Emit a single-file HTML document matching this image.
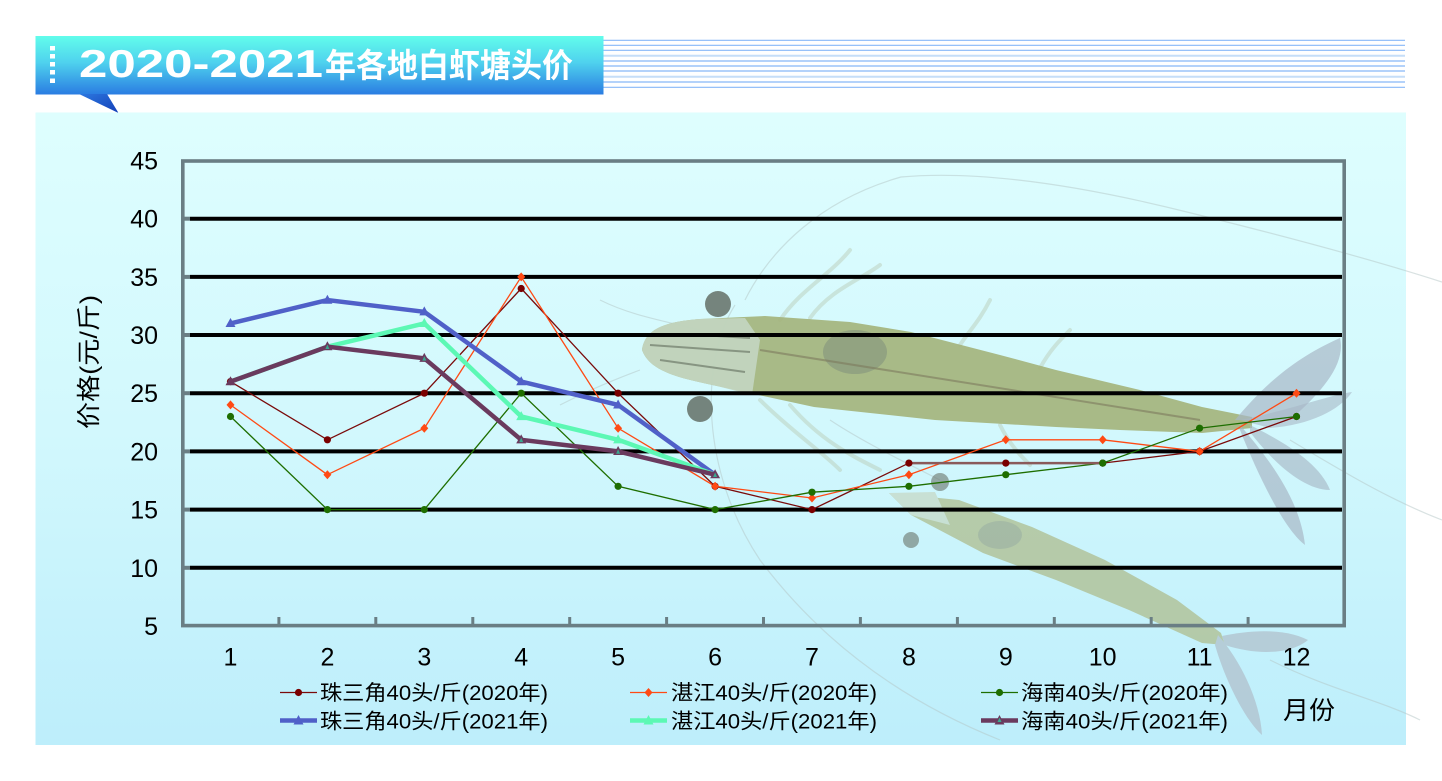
<!DOCTYPE html>
<html><head><meta charset="utf-8">
<style>
html,body{margin:0;padding:0;background:#fff;}
svg{display:block;}
text{font-family:"Liberation Sans","Noto Sans CJK SC",sans-serif;}
</style></head>
<body>
<svg width="1442" height="781" viewBox="0 0 1442 781" xmlns="http://www.w3.org/2000/svg">
<defs>
<linearGradient id="panel" x1="0" y1="0" x2="0" y2="1">
<stop offset="0" stop-color="#defefe"/>
<stop offset="0.5" stop-color="#d2f8fd"/>
<stop offset="1" stop-color="#bdeefb"/>
</linearGradient>
<linearGradient id="title" x1="0" y1="0" x2="0" y2="1">
<stop offset="0" stop-color="#62fdeb"/>
<stop offset="0.45" stop-color="#4fd2ee"/>
<stop offset="1" stop-color="#2a7ce2"/>
</linearGradient>
<linearGradient id="tri" x1="0" y1="0" x2="1" y2="1">
<stop offset="0" stop-color="#2c78e0"/>
<stop offset="1" stop-color="#1440b8"/>
</linearGradient>
</defs>

<!-- title stripes -->
<g stroke="#88b8f8" stroke-width="1.2">
<line x1="603" y1="40.3" x2="1405" y2="40.3"/>
<line x1="603" y1="45.3" x2="1405" y2="45.3"/>
<line x1="603" y1="50.3" x2="1405" y2="50.3"/>
<line x1="603" y1="61" x2="1405" y2="61"/>
<line x1="603" y1="66" x2="1405" y2="66"/>
<line x1="603" y1="71" x2="1405" y2="71"/>
<line x1="603" y1="82" x2="1405" y2="82"/>
<line x1="603" y1="87.3" x2="1405" y2="87.3"/>
</g>
<g stroke="#c6def8" stroke-width="2">
<line x1="603" y1="55.7" x2="1405" y2="55.7"/>
<line x1="603" y1="76.7" x2="1405" y2="76.7"/>
</g>

<!-- title box -->
<rect x="35.5" y="36" width="568" height="58.5" fill="url(#title)"/>
<polygon points="79,94 107,94 118.5,113" fill="url(#tri)"/>
<g fill="#ffffff">
<rect x="50" y="46" width="5" height="4.5"/>
<rect x="50" y="54" width="5" height="4.5"/>
<rect x="50" y="62" width="5" height="4.5"/>
<rect x="50" y="70" width="5" height="4.5"/>
<rect x="50" y="78.5" width="5" height="4.5"/>
</g>
<text x="79" y="77" font-size="39" font-weight="bold" fill="#fff" textLength="244" lengthAdjust="spacingAndGlyphs">2020-2021</text>
<text x="325" y="77" font-size="33" font-weight="bold" fill="#fff" textLength="248" lengthAdjust="spacingAndGlyphs" style="font-family:'Noto Sans CJK SC','WenQuanYi Zen Hei',sans-serif">年各地白虾塘头价</text>

<!-- panel -->
<rect x="35.5" y="112.5" width="1370.5" height="632.5" fill="url(#panel)"/>

<!-- shrimp background -->
<g>
<g fill="none" stroke="#b4c6c6" stroke-width="1.2" opacity="0.5">
<path d="M745,300 C770,250 820,200 901,177 C980,170 1080,185 1191,213 C1300,240 1380,262 1442,282"/>
<path d="M735,305 C700,360 700,470 760,560 C820,640 900,700 1000,740"/>
<path d="M700,330 C660,320 630,315 600,300"/>
<path d="M640,370 C600,385 580,395 560,405"/>
<path d="M1290,440 C1340,470 1390,500 1442,520"/>
<path d="M940,480 C900,460 860,440 830,420"/>
<path d="M1270,660 C1330,690 1380,700 1420,720"/>
</g>
<g fill="none" stroke="#b8cab4" stroke-width="4" opacity="0.45" stroke-linecap="round">
<path d="M780,320 C800,290 830,275 850,250"/>
<path d="M810,318 C830,290 860,280 880,265"/>
<path d="M760,400 C790,430 820,450 840,470"/>
<path d="M790,405 C820,440 850,455 880,470"/>
<path d="M960,345 C970,330 980,320 990,300"/>
<path d="M1040,368 C1050,350 1060,340 1070,330"/>
<path d="M1000,425 C1010,445 1020,455 1030,465"/>
</g>
<path d="M642,350 C645,330 662,322 700,319 L765,316 L850,322 L911,332 L1000,355 L1056,370 L1140,390 L1202,407 L1252,417 L1252,428 L1202,433 L1120,430 L1056,427 L935,420 L814,407 L717,386 C680,378 650,372 642,350 Z" fill="#a3b27a" opacity="0.9"/>
<path d="M642,350 C645,330 662,322 700,319 L745,318 L760,340 L752,395 L717,386 C680,378 650,372 642,350 Z" fill="#c3d6c2" opacity="0.9"/>
<path d="M650,345 L750,352 M660,360 L745,372 M700,335 L750,338" stroke="#6d7a6a" stroke-width="2" fill="none" opacity="0.7"/>
<ellipse cx="855" cy="352" rx="32" ry="22" fill="#7f8f7c" opacity="0.55"/>
<path d="M760,350 L1200,420" stroke="#7d7a5e" stroke-width="2" opacity="0.6" fill="none"/>
<circle cx="718" cy="304" r="13" fill="#5c665c" opacity="0.8"/>
<circle cx="700" cy="409" r="13" fill="#5c665c" opacity="0.8"/>
<path d="M1235,420 C1260,390 1290,360 1340,338 C1345,360 1330,385 1290,420 Z" fill="#a8b8c6" opacity="0.7"/>
<path d="M1240,420 C1290,410 1330,395 1352,392 C1340,410 1310,425 1270,428 Z" fill="#a8b8c6" opacity="0.6"/>
<path d="M1240,425 C1270,460 1300,500 1305,545 C1285,530 1260,480 1240,430 Z" fill="#a8b8c6" opacity="0.7"/>
<path d="M1250,425 C1290,445 1320,465 1330,490 C1305,490 1275,465 1250,432 Z" fill="#a8b8c6" opacity="0.65"/>
<g opacity="0.75">
<path d="M889,493 L959,500 L1032,527 L1105,560 L1177,600 L1221,633 L1225,645 L1202,643 L1129,610 L1056,580 L983,553 L911,515 Z" fill="#aebc8e"/>
<path d="M889,493 L935,492 L950,525 L911,515 Z" fill="#c6d8c6"/>
<ellipse cx="1000" cy="535" rx="22" ry="14" fill="#8a9a84" opacity="0.6"/>
<circle cx="940" cy="482" r="9" fill="#6a746a" opacity="0.8"/>
<circle cx="911" cy="540" r="8" fill="#6a746a" opacity="0.8"/>
<path d="M1218,635 C1240,660 1260,700 1262,735 C1245,720 1225,680 1215,645 Z" fill="#b0c0cc"/>
<path d="M1222,636 C1250,630 1285,628 1308,640 C1290,655 1255,655 1225,645 Z" fill="#b0c0cc"/>
</g>
</g>

<!-- gridlines -->
<g stroke="#000" stroke-width="4">
<line x1="190" y1="218.7" x2="1342" y2="218.7"/>
<line x1="190" y1="276.9" x2="1342" y2="276.9"/>
<line x1="190" y1="335.0" x2="1342" y2="335.0"/>
<line x1="190" y1="393.2" x2="1342" y2="393.2"/>
<line x1="190" y1="451.4" x2="1342" y2="451.4"/>
<line x1="190" y1="509.6" x2="1342" y2="509.6"/>
<line x1="190" y1="567.8" x2="1342" y2="567.8"/>
</g>
<g stroke="#6a7e84" stroke-width="4">
<line x1="181" y1="218.7" x2="190" y2="218.7"/>
<line x1="181" y1="276.9" x2="190" y2="276.9"/>
<line x1="181" y1="335.0" x2="190" y2="335.0"/>
<line x1="181" y1="393.2" x2="190" y2="393.2"/>
<line x1="181" y1="451.4" x2="190" y2="451.4"/>
<line x1="181" y1="509.6" x2="190" y2="509.6"/>
<line x1="181" y1="567.8" x2="190" y2="567.8"/>
</g>
<g stroke="#6a7e84" fill="none">
<rect x="182.8" y="161" width="1161.4" height="464.6" stroke-width="3.6"/>
</g>
<g stroke="#6a7e84" stroke-width="3">
<line x1="278.9" y1="617" x2="278.9" y2="626"/>
<line x1="375.8" y1="617" x2="375.8" y2="626"/>
<line x1="472.8" y1="617" x2="472.8" y2="626"/>
<line x1="569.7" y1="617" x2="569.7" y2="626"/>
<line x1="666.6" y1="617" x2="666.6" y2="626"/>
<line x1="763.5" y1="617" x2="763.5" y2="626"/>
<line x1="860.4" y1="617" x2="860.4" y2="626"/>
<line x1="957.4" y1="617" x2="957.4" y2="626"/>
<line x1="1054.3" y1="617" x2="1054.3" y2="626"/>
<line x1="1151.2" y1="617" x2="1151.2" y2="626"/>
<line x1="1248.1" y1="617" x2="1248.1" y2="626"/>
</g>

<g font-size="25" fill="#000" text-anchor="end">
<text x="158" y="169.5">45</text>
<text x="158" y="227.7">40</text>
<text x="158" y="285.9">35</text>
<text x="158" y="344.0">30</text>
<text x="158" y="402.2">25</text>
<text x="158" y="460.4">20</text>
<text x="158" y="518.6">15</text>
<text x="158" y="576.8">10</text>
<text x="158" y="635.0">5</text>
</g>
<g font-size="25" fill="#000" text-anchor="middle">
<text x="230.5" y="665.5">1</text>
<text x="327.4" y="665.5">2</text>
<text x="424.3" y="665.5">3</text>
<text x="521.2" y="665.5">4</text>
<text x="618.1" y="665.5">5</text>
<text x="715.1" y="665.5">6</text>
<text x="812.0" y="665.5">7</text>
<text x="908.9" y="665.5">8</text>
<text x="1005.8" y="665.5">9</text>
<text x="1102.7" y="665.5">10</text>
<text x="1199.6" y="665.5">11</text>
<text x="1296.5" y="665.5">12</text>
</g>
<text transform="translate(97,362) rotate(-90)" font-size="24" fill="#000" text-anchor="middle" textLength="134" lengthAdjust="spacingAndGlyphs">价格(元/斤)</text>

<polyline fill="none" stroke="#7a0a0a" stroke-width="1.3" points="230.5,381.6 327.4,439.8 424.3,393.2 521.2,288.5 618.1,393.2 715.1,486.3 812.0,509.6 908.9,463.1 1005.8,463.1 1102.7,463.1 1199.6,451.4 1296.5,416.5"/>
<polyline fill="none" stroke="#ff4a14" stroke-width="1.3" points="230.5,404.9 327.4,474.7 424.3,428.2 521.2,276.9 618.1,428.2 715.1,486.3 812.0,498.0 908.9,474.7 1005.8,439.8 1102.7,439.8 1199.6,451.4 1296.5,393.2"/>
<polyline fill="none" stroke="#1e6e00" stroke-width="1.3" points="230.5,416.5 327.4,509.6 424.3,509.6 521.2,393.2 618.1,486.3 715.1,509.6 812.0,492.2 908.9,486.3 1005.8,474.7 1102.7,463.1 1199.6,428.2 1296.5,416.5"/>
<line x1="908.9" y1="463.1" x2="1102.7" y2="463.1" stroke="#8a5a5a" stroke-width="2.5"/>
<g fill="#7a0000">
<circle cx="230.5" cy="381.6" r="3.6"/><circle cx="327.4" cy="439.8" r="3.6"/><circle cx="424.3" cy="393.2" r="3.6"/><circle cx="521.2" cy="288.5" r="3.6"/><circle cx="618.1" cy="393.2" r="3.6"/><circle cx="715.1" cy="486.3" r="3.6"/><circle cx="812.0" cy="509.6" r="3.6"/><circle cx="908.9" cy="463.1" r="3.6"/><circle cx="1005.8" cy="463.1" r="3.6"/><circle cx="1102.7" cy="463.1" r="3.6"/><circle cx="1199.6" cy="451.4" r="3.6"/><circle cx="1296.5" cy="416.5" r="3.6"/>
</g>
<g fill="#ff4a14">
<polygon points="230.5,400.4 234.5,404.9 230.5,409.4 226.5,404.9"/>
<polygon points="327.4,470.2 331.4,474.7 327.4,479.2 323.4,474.7"/>
<polygon points="424.3,423.7 428.3,428.2 424.3,432.7 420.3,428.2"/>
<polygon points="521.2,272.4 525.2,276.9 521.2,281.4 517.2,276.9"/>
<polygon points="618.1,423.7 622.1,428.2 618.1,432.7 614.1,428.2"/>
<polygon points="715.1,481.8 719.1,486.3 715.1,490.8 711.1,486.3"/>
<polygon points="812.0,493.5 816.0,498.0 812.0,502.5 808.0,498.0"/>
<polygon points="908.9,470.2 912.9,474.7 908.9,479.2 904.9,474.7"/>
<polygon points="1005.8,435.3 1009.8,439.8 1005.8,444.3 1001.8,439.8"/>
<polygon points="1102.7,435.3 1106.7,439.8 1102.7,444.3 1098.7,439.8"/>
<polygon points="1199.6,446.9 1203.6,451.4 1199.6,455.9 1195.6,451.4"/>
<polygon points="1296.5,388.7 1300.5,393.2 1296.5,397.7 1292.5,393.2"/>
</g>
<g fill="#1e6e00">
<circle cx="230.5" cy="416.5" r="3.6"/><circle cx="327.4" cy="509.6" r="3.6"/><circle cx="424.3" cy="509.6" r="3.6"/><circle cx="521.2" cy="393.2" r="3.6"/><circle cx="618.1" cy="486.3" r="3.6"/><circle cx="715.1" cy="509.6" r="3.6"/><circle cx="812.0" cy="492.2" r="3.6"/><circle cx="908.9" cy="486.3" r="3.6"/><circle cx="1005.8" cy="474.7" r="3.6"/><circle cx="1102.7" cy="463.1" r="3.6"/><circle cx="1199.6" cy="428.2" r="3.6"/><circle cx="1296.5" cy="416.5" r="3.6"/>
</g>

<polyline fill="none" stroke="#5060c8" stroke-width="4.5" stroke-linejoin="round" points="230.5,323.4 327.4,300.1 424.3,311.8 521.2,381.6 618.1,404.9 715.1,474.7"/>
<polyline fill="none" stroke="#5cf8b4" stroke-width="4.5" stroke-linejoin="round" points="230.5,381.6 327.4,346.7 424.3,323.4 521.2,416.5 618.1,439.8 715.1,474.7"/>
<polyline fill="none" stroke="#6a3a5e" stroke-width="4.5" stroke-linejoin="round" points="230.5,381.6 327.4,346.7 424.3,358.3 521.2,439.8 618.1,451.4 715.1,474.7"/>
<g fill="#5060c8">
<polygon points="230.5,318 235.5,327 225.5,327"/>
<polygon points="327.4,294.7 332.4,303.7 322.4,303.7"/>
<polygon points="424.3,306.4 429.3,315.4 419.3,315.4"/>
<polygon points="521.2,376.2 526.2,385.2 516.2,385.2"/>
<polygon points="618.1,399.5 623.1,408.5 613.1,408.5"/>
</g>
<g fill="#5cf8b4">
<polygon points="424.3,318 429.3,327 419.3,327"/>
<polygon points="521.2,411.1 526.2,420.1 516.2,420.1"/>
<polygon points="618.1,434.4 623.1,443.4 613.1,443.4"/>
</g>
<g fill="#6a3a5e">
<polygon points="230.5,376.2 235.5,385.2 225.5,385.2"/>
<polygon points="327.4,341.3 332.4,350.3 322.4,350.3"/>
<polygon points="424.3,352.9 429.3,361.9 419.3,361.9"/>
<polygon points="521.2,434.4 526.2,443.4 516.2,443.4"/>
<polygon points="618.1,446 623.1,455 613.1,455"/>
<polygon points="715.1,469.3 720.1,478.3 710.1,478.3"/>
</g>
<g fill="#3aa890">
<polygon points="327.4,344.5 329.4,349 325.4,349"/>
<polygon points="424.3,356.1 426.3,360.6 422.3,360.6"/>
<polygon points="521.2,437.6 523.2,442.1 519.2,442.1"/>
<polygon points="618.1,449.2 620.1,453.7 616.1,453.7"/>
<polygon points="715.1,472.5 717.1,477 713.1,477"/>
</g>

<g>
<line x1="280" y1="692.5" x2="317" y2="692.5" stroke="#7a0a0a" stroke-width="1.3"/>
<circle cx="298.5" cy="692.5" r="3.6" fill="#7a0000"/>
<line x1="630" y1="692.5" x2="667" y2="692.5" stroke="#ff4a14" stroke-width="1.3"/>
<polygon points="648.5,688 652.5,692.5 648.5,697 644.5,692.5" fill="#ff4a14"/>
<line x1="981" y1="692.5" x2="1018" y2="692.5" stroke="#1e6e00" stroke-width="1.3"/>
<circle cx="999.5" cy="692.5" r="3.6" fill="#1e6e00"/>
<line x1="280" y1="720.5" x2="317" y2="720.5" stroke="#5060c8" stroke-width="4.5"/>
<polygon points="298.5,715 303.5,724.5 293.5,724.5" fill="#5060c8"/>
<line x1="630" y1="720.5" x2="667" y2="720.5" stroke="#5cf8b4" stroke-width="4.5"/>
<polygon points="648.5,715 653.5,724.5 643.5,724.5" fill="#5cf8b4"/>
<line x1="981" y1="720.5" x2="1018" y2="720.5" stroke="#6a3a5e" stroke-width="4.5"/>
<polygon points="999.5,715 1004.5,724.5 994.5,724.5" fill="#6a3a5e"/>
<polygon points="999.5,717.5 1001.5,722 997.5,722" fill="#3aa890"/>
</g>
<g font-size="21" fill="#000">
<text x="320" y="700" textLength="228" lengthAdjust="spacingAndGlyphs">珠三角40头/斤(2020年)</text>
<text x="671" y="700" textLength="206" lengthAdjust="spacingAndGlyphs">湛江40头/斤(2020年)</text>
<text x="1021" y="700" textLength="207" lengthAdjust="spacingAndGlyphs">海南40头/斤(2020年)</text>
<text x="320" y="728.5" textLength="228" lengthAdjust="spacingAndGlyphs">珠三角40头/斤(2021年)</text>
<text x="671" y="728.5" textLength="206" lengthAdjust="spacingAndGlyphs">湛江40头/斤(2021年)</text>
<text x="1021" y="728.5" textLength="207" lengthAdjust="spacingAndGlyphs">海南40头/斤(2021年)</text>
</g>
<text x="1283" y="719" font-size="25" fill="#000" textLength="52" lengthAdjust="spacingAndGlyphs">月份</text>
</svg>
</body></html>
